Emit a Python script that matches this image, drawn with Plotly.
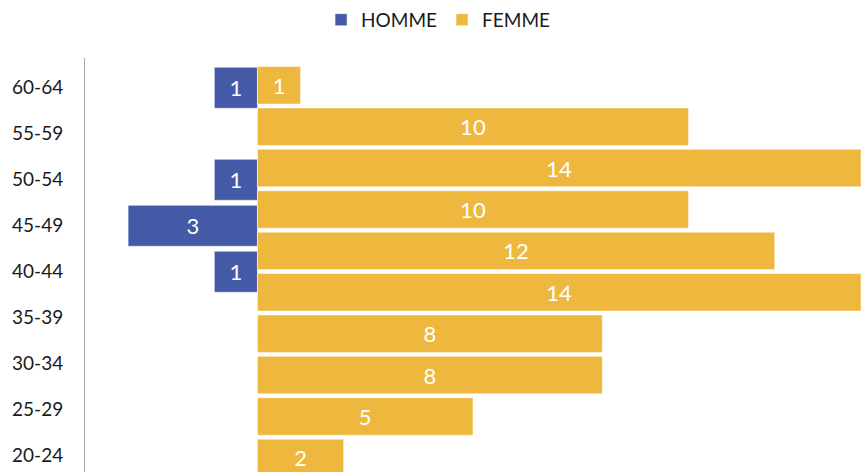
import plotly.graph_objects as go

age_groups = ["60-64", "55-59", "50-54", "45-49", "40-44", "35-39", "30-34", "25-29", "20-24"]
homme = [1, 0, 1, 3, 1, 0, 0, 0, 0]

femme_groups = ["60-64", "55-59", "50-54", "45-49", "40-44", "35-39", "30-34", "25-29", "20-24", "15-19"]
femme = [1, 10, 14, 10, 12, 14, 8, 8, 5, 2]

BLUE = "#445AA6"
YELLOW = "#EEB83F"
FONT = "Lato"

h_x = [-v if v else None for v in homme]
h_text = [str(v) if v else "" for v in homme]

fig = go.Figure()
fig.add_trace(go.Bar(
    y=age_groups, x=h_x, orientation="h", name="HOMME",
    marker=dict(color=BLUE, line=dict(color="rgba(255,255,255,0.5)", width=1)),
    width=0.89, text=h_text, textposition="inside", insidetextanchor="middle",
    textfont=dict(color="white", size=22, family=FONT), yaxis="y", hoverinfo="skip",
    textangle=0,
))
fig.add_trace(go.Bar(
    y=femme_groups, x=femme, orientation="h", name="FEMME",
    marker=dict(color=YELLOW, line=dict(color="rgba(255,255,255,0.5)", width=1)),
    width=0.905, text=[str(v) for v in femme], textposition="inside", insidetextanchor="middle",
    textfont=dict(color="white", size=22, family=FONT), yaxis="y2", hoverinfo="skip",
    textangle=0,
))

fig.update_layout(
    width=864, height=472,
    margin=dict(l=85, r=3, t=58, b=0),
    paper_bgcolor="white", plot_bgcolor="white",
    barmode="overlay",
    font=dict(family=FONT, color="#1a1a1a"),
    uniformtext=dict(mode="show", minsize=22),
    xaxis=dict(range=[-4, 14], visible=False, fixedrange=True),
    yaxis=dict(
        type="category", categoryorder="array", categoryarray=age_groups,
        range=[8.352, -0.648], showline=True, linecolor="#A6A6A6", linewidth=1,
        showgrid=False, zeroline=False, ticks="", ticklabelstandoff=17,
        tickfont=dict(size=19, color="#1a1a1a", family=FONT),
    ),
    yaxis2=dict(
        type="category", categoryorder="array", categoryarray=femme_groups,
        range=[9.341, -0.659], overlaying="y", visible=False,
    ),
    legend=dict(
        orientation="h", xref="container", yref="container",
        x=0.507, xanchor="center", y=0.958, yanchor="middle",
        font=dict(size=19, color="#1a1a1a", family=FONT),
        itemwidth=30, traceorder="normal",
    ),
    showlegend=True,
)

fig.write_html(
    "out.html",
    config={"displayModeBar": False},
    post_script="document.body.style.margin='0px';document.body.style.overflow='hidden';",
)
